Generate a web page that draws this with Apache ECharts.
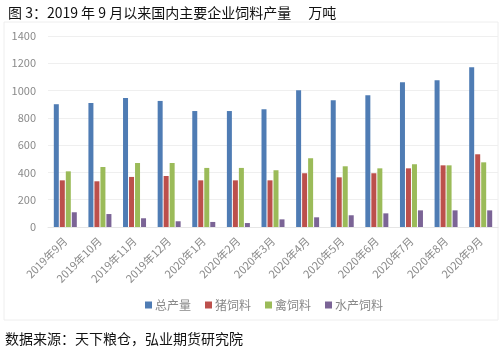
<!DOCTYPE html>
<html>
<head>
<meta charset="utf-8">
<script src="https://cdn.jsdelivr.net/npm/echarts@6/dist/echarts.min.js"></script>
<style>
  html, body { margin: 0; padding: 0; background: #fff; }
  #main { width: 502px; height: 353px; }
</style>
</head>
<body>
<div id="main"></div>
<script>
// 月份
var months = ['2019年9月', '2019年10月', '2019年11月', '2019年12月', '2020年1月', '2020年2月', '2020年3月',
  '2020年4月', '2020年5月', '2020年6月', '2020年7月', '2020年8月', '2020年9月'];
// 各类饲料产量（万吨）
var totalOutput = [900, 909, 946, 924, 850, 850, 863, 1002, 929, 966, 1061, 1075, 1171];
var pigFeed = [342, 335, 367, 374, 342, 342, 342, 394, 364, 394, 430, 452, 533];
var poultryFeed = [408, 440, 469, 469, 433, 433, 416, 504, 445, 430, 460, 452, 474];
var aquaFeed = [108, 95, 64, 42, 37, 29, 56, 71, 86, 100, 122, 122, 122];
var yTicks = [0, 200, 400, 600, 800, 1000, 1200, 1400];

var chart = echarts.init(document.getElementById('main'));
var font = '"Noto Sans CJK SC", "Noto Sans", sans-serif';

function bar(name, data, color) {
  return {
    name: name,
    type: 'bar',
    data: data,
    barWidth: 5,
    barGap: '20%',
    itemStyle: { color: color }
  };
}

var option = {
  animation: false,
  textStyle: { fontFamily: font },
  title: {
    text: '图 3：2019 年 9 月以来国内主要企业饲料产量\u3000 万吨',
    left: 3,
    top: 1,
    textStyle: { fontSize: 14, fontWeight: 'normal', color: '#111', fontFamily: font }
  },
  graphic: [{
    type: 'rect',
    shape: { x: 4, y: 22, width: 494, height: 298 },
    style: { fill: 'none', stroke: '#eeeeee', lineWidth: 1 },
    silent: true
  }, {
    type: 'text',
    left: 5,
    top: 332,
    style: { text: '数据来源：天下粮仓，弘业期货研究院', fontSize: 14, fill: '#111', fontFamily: font }
  }],
  legend: {
    top: 294,
    left: 140,
    itemWidth: 7,
    itemHeight: 7,
    itemGap: 14,
    icon: 'rect',
    textStyle: { fontSize: 12, color: '#888', padding: [0, 0, 0, -2] },
    data: ['总产量', '猪饲料', '禽饲料', '水产饲料']
  },
  grid: { left: 48, right: 4, top: 36, bottom: 126, containLabel: false, outerBoundsMode: 'none' },
  xAxis: {
    type: 'category',
    data: months,
    axisTick: { show: false },
    axisLine: { lineStyle: { color: '#e6e6e6' } },
    axisLabel: { rotate: 45, fontSize: 11, color: '#8a8a8a', interval: 0, margin: 12 }
  },
  yAxis: {
    type: 'value',
    min: yTicks[0],
    max: yTicks[yTicks.length - 1],
    interval: 200,
    name: '万吨',
    nameLocation: 'middle',
    nameGap: 36,
    nameRotate: 90,
    nameTextStyle: { fontSize: 12, color: '#8a8a8a' },
    axisLine: { show: false },
    axisTick: { show: false },
    axisLabel: {
      fontSize: 11, color: '#8a8a8a', margin: 12,
      formatter: function (v) { return String(v); }
    },
    splitLine: { lineStyle: { color: '#efefef' } }
  },
  series: [
    bar('总产量', totalOutput, '#4f7cb4'),
    bar('猪饲料', pigFeed, '#bc504c'),
    bar('禽饲料', poultryFeed, '#9bbb59'),
    bar('水产饲料', aquaFeed, '#7b6496')
  ]
};
chart.setOption(option);
</script>
</body>
</html>
